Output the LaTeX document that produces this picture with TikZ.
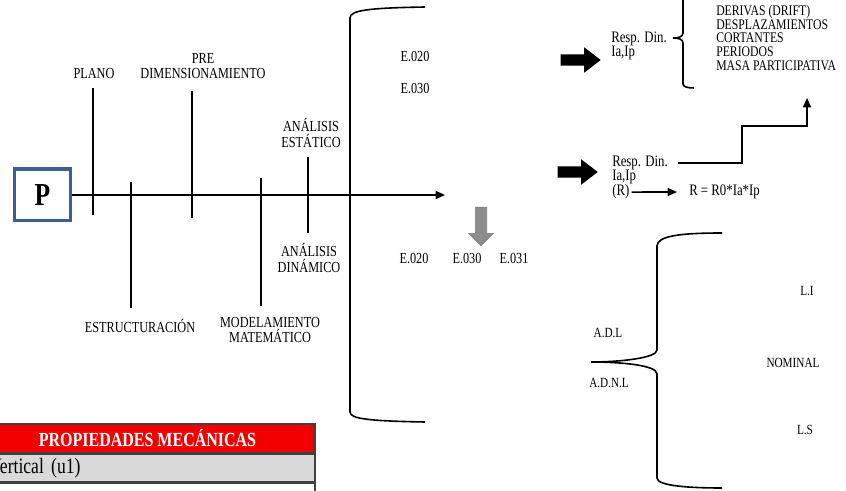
\documentclass[tikz,border=0pt]{standalone}
\usepackage{fontspec}
\setmainfont{Liberation Serif}[FakeStretch=0.8]
\usetikzlibrary{shapes.arrows, arrows.meta, positioning}

\definecolor{pblue}{HTML}{3B5E94}
\definecolor{hdrred}{HTML}{F20000}
\definecolor{rowgray}{HTML}{D9D9D9}
\definecolor{arrgray}{HTML}{8C8C8C}

\begin{document}
\begin{tikzpicture}[
      x=0.75pt, y=-0.75pt,
      lbl/.style={font=\fontsize{11.5}{11.5}\selectfont, inner sep=0pt, align=center},
      small/.style={font=\fontsize{10.5}{10.5}\selectfont, inner sep=0pt},
      item/.style={font=\fontsize{11}{11}\selectfont, inner sep=0pt, anchor=west, text height=1.45ex, text depth=0.35ex},
      resp/.style={item, font=\fontsize{12}{12}\selectfont},
      tick/.style={line width=1.3pt},
      axis/.style={line width=1.3pt, -{Triangle[length=7pt,width=6pt]}},
      brace/.style={line width=1.2pt},
      conn/.style={line width=1.2pt, -{Triangle[length=7pt,width=6pt]}},
      bigarrow/.style={single arrow, fill=black, inner xsep=0pt, inner ysep=4.1pt, minimum height=30pt, single arrow head extend=5.25pt, single arrow tip angle=75},
      tbl/.style={draw=black!75, line width=1.2pt, minimum width=251pt, inner xsep=6.75pt, inner ysep=0pt}
    ]
    \useasboundingbox (0,0) rectangle (846,491);
    \clip (0,0) rectangle (846,491);

    % project box and main axis
    \node [draw=pblue, line width=2.5pt, minimum width=41.75pt, minimum height=38.75pt, font=\fontsize{24}{24}\selectfont\bfseries] (pbox) at (42.5,195) {P};
    \coordinate (axend) at (445,195);
    \draw [axis] (pbox) -- (axend);

    % stages
    \node [lbl] (plano) at (94,74) {PLANO};
    \node [lbl] (predim) at (203,66) {PRE\\DIMENSIONAMIENTO};
    \node [lbl] (aest) at (311,133) {ANÁLISIS\\ESTÁTICO};
    \node [lbl] (adin) at (309,258) {ANÁLISIS\\DINÁMICO};
    \node [lbl] (estruct) at (140,326) {ESTRUCTURACIÓN};
    \node [lbl] (modmat) at (270,330) {MODELAMIENTO\\MATEMÁTICO};

    \coordinate (plano-t) at (93,88);     \coordinate (plano-b) at (93,215);
    \coordinate (estruct-t) at (131,182); \coordinate (estruct-b) at (131,308);
    \coordinate (predim-t) at (192,91);   \coordinate (predim-b) at (192,218);
    \coordinate (modmat-t) at (261,178);  \coordinate (modmat-b) at (261,306);
    \coordinate (aest-t) at (308,157);    \coordinate (aest-b) at (308,233);
    \draw [tick] (plano-t) -- (plano-b);
    \draw [tick] (estruct-t) -- (estruct-b);
    \draw [tick] (predim-t) -- (predim-b);
    \draw [tick] (modmat-t) -- (modmat-b);
    \draw [tick] (aest-t) -- (aest-b);

    % norms bracket
    \draw [brace] (425,7) .. controls (370,8) and (350,10) .. (350,18) -- (350,412) .. controls (350,419) and (370,421) .. (425,422);
    \node [lbl] (e020a) at (415,57) {E.020};
    \node [lbl] (e030a) at (415,89) {E.030};
    \node [single arrow, shape border rotate=270, fill=arrgray, draw=arrgray!85!black, inner sep=4.1pt, minimum height=29pt, single arrow head extend=4.9pt] (down) at (481,223.5) {};
    \node [lbl] (e020b) at (414,259) {E.020};
    \node [lbl] (e030b) at (467,259) {E.030};
    \node [lbl] (e031b) at (514,259) {E.031};

    % dynamic response
    \node [bigarrow] (arrA) at (577,60) {};
    \node [resp] (respA) at (611,39) {Resp. Din.};
    \node [resp, below=10.5pt of respA.west, anchor=west] (iaipA) {Ia,Ip};
    \draw [brace] (683,-5) -- (683,33) .. controls (683,37) and (678,38) .. (673,38) .. controls (678,38) and (683,39) .. (683,43) -- (683,84) .. controls (683,87) and (688,88) .. (694,88);
    \node [item] (derivas) at (716,12) {DERIVAS (DRIFT)};
    \node [item, below=10.3pt of derivas.west, anchor=west] (desplaz) {DESPLAZAMIENTOS};
    \node [item, below=10.3pt of desplaz.west, anchor=west] (cortantes) {CORTANTES};
    \node [item, below=10.3pt of cortantes.west, anchor=west] (periodos) {PERIODOS};
    \node [item, below=10.3pt of periodos.west, anchor=west] (masa) {MASA PARTICIPATIVA};

    \node [bigarrow] (arrB) at (574,172) {};
    \node [resp] (respB) at (612,163) {Resp. Din.};
    \node [resp, below=10.9pt of respB.west, anchor=west] (iaipB) {Ia,Ip};
    \node [resp, below=10.9pt of iaipB.west, anchor=west] (rr) {(R)};
    \node [resp] (req) at (689,192) {R = R0*Ia*Ip};
    \draw [conn, shorten <=1.5pt, shorten >=9pt] (rr.east) -- (req.west);
    \coordinate (stepA) at (742,126);
    \coordinate (tipUp) at (807,98);
    \draw [conn] (respB.east) ++(10,0) -- (stepA |- respB.east) -- (stepA) -- (stepA -| tipUp) -- (tipUp);

    % analysis cases
    \draw [brace] (722,233) .. controls (680,233) and (657,236) .. (657,246) -- (657,350) .. controls (657,358) and (620,362) .. (591,362) .. controls (620,362) and (657,365) .. (657,374) -- (657,478) .. controls (657,486) and (690,488) .. (722,488);
    \node [small] (adl) at (608,333) {A.D.L};
    \node [small] (adnl) at (609,383) {A.D.N.L};
    \node [small] (li) at (807,291) {L.I};
    \node [small] (nominal) at (793,363) {NOMINAL};
    \node [small] (ls) at (805,430) {L.S};

    % table
    \node [tbl, fill=hdrred, minimum height=21.75pt, text=white, font=\fontsize{15}{15}\selectfont\bfseries] (hdr) at (147.5,438.5) {PROPIEDADES MECÁNICAS};
    \node [tbl, fill=rowgray, minimum height=20.25pt, text width=237.5pt, align=left, font=\fontsize{16.5}{16.5}\selectfont, below=0pt of hdr] (row1) {Vertical (u1)};
    \node [tbl, fill=white, minimum height=20pt, below=0pt of row1] (row2) {};
  \end{tikzpicture}
\end{document}
